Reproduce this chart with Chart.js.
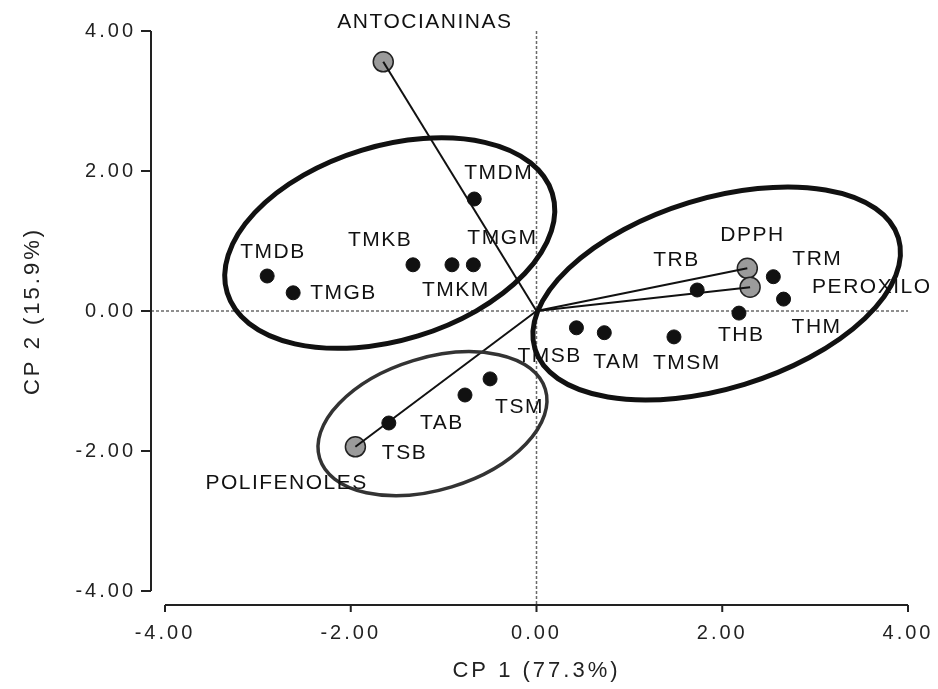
<!DOCTYPE html>
<html lang="es">
<head>
<meta charset="utf-8">
<title>CP1 x CP2</title>
<script src="https://cdn.jsdelivr.net/npm/chart.js@4.4.1/dist/chart.umd.min.js"></script>
<style>
  html, body { margin: 0; padding: 0; background: #fff; }
  #grafico { display: block; }
</style>
</head>
<body>
<canvas id="grafico" width="938" height="689"></canvas>
<script>
// =====================================================
// DADOS
// =====================================================
const amostras  = ['TMDB', 'TMGB', 'TMKB', 'TMKM', 'TMGM', 'TMDM', 'TRB', 'TRM', 'THM', 'THB', 'TMSB', 'TAM', 'TMSM', 'TSM', 'TAB', 'TSB'];
const amostrasX = [-2.90, -2.62, -1.33, -0.91, -0.68, -0.67, 1.73, 2.55, 2.66, 2.18, 0.43, 0.73, 1.48, -0.50, -0.77, -1.59];
const amostrasY = [0.50, 0.26, 0.66, 0.66, 0.66, 1.60, 0.30, 0.49, 0.17, -0.03, -0.24, -0.31, -0.37, -0.97, -1.20, -1.60];

const variaveis  = ['ANTOCIANINAS', 'POLIFENOLES', 'DPPH', 'PEROXILO'];
const variaveisX = [-1.65, -1.95, 2.27, 2.30];
const variaveisY = [3.56, -1.94, 0.61, 0.34];

const ticksEixo = [-4, -2, 0, 2, 4];

// =====================================================
// LAYOUT DOS RÓTULOS (deslocamento em px a partir do ponto)
// =====================================================
const offsetsAmostras = [
  [-27, -24], [17, 0], [-65, -25], [-30, 25], [-6, -27], [-10, -26],
  [-44, -30], [19, -17], [8, 28], [-21, 22], [-59, 28], [-11, 30],
  [-21, 26], [5, 28], [-45, 28], [-7, 30],
];
const offsetsVariaveis = [[-46, -40], [-150, 36], [-27, -33], [62, 0]];

// Elipses dos agrupamentos (centro em unidades do gráfico, raios em px)
const elipses = [
  { cx: -1.58, cy: 0.97,  rx: 170, ry: 97, ang: -17, largura: 5,   cor: '#111' },
  { cx: 1.94,  cy: 0.25,  rx: 190, ry: 95, ang: -17, largura: 5,   cor: '#111' },
  { cx: -1.12, cy: -1.61, rx: 118, ry: 66, ang: -17, largura: 3.5, cor: '#333' },
];

const FONTE = '"Liberation Sans", Arial, sans-serif';

// sem padding automático das escalas: a área do gráfico fica fixa
function semPadding(s) {
  s.paddingTop = 0;
  s.paddingBottom = 0;
  s.paddingLeft = 0;
  s.paddingRight = 0;
}

// =====================================================
// PLUGINS
// =====================================================
const pluginEspacamento = {
  id: 'espacamento',
  beforeDraw(chart) { chart.ctx.letterSpacing = '3px'; },
  afterDraw(chart) { chart.ctx.letterSpacing = '0px'; },
};

const pluginEixos = {
  id: 'eixos',
  beforeDatasetsDraw(chart) {
    const { ctx, chartArea, scales } = chart;
    const x0 = scales.x.getPixelForValue(0);
    const y0 = scales.y.getPixelForValue(0);
    const eixoY = chartArea.left - 14;
    const eixoX = chartArea.bottom + 14;

    ctx.save();
    // linhas de referência em zero
    ctx.strokeStyle = '#6a6a6a';
    ctx.lineWidth = 1.5;
    ctx.setLineDash([3, 2]);
    ctx.beginPath();
    ctx.moveTo(eixoY, y0);
    ctx.lineTo(chartArea.right, y0);
    ctx.moveTo(x0, chartArea.top);
    ctx.lineTo(x0, eixoX);
    ctx.stroke();
    ctx.setLineDash([]);

    // eixos destacados
    ctx.strokeStyle = '#222';
    ctx.lineWidth = 2;
    ctx.beginPath();
    ctx.moveTo(eixoY, chartArea.top);
    ctx.lineTo(eixoY, chartArea.bottom);
    ctx.moveTo(chartArea.left, eixoX);
    ctx.lineTo(chartArea.right, eixoX);
    ticksEixo.forEach((v) => {
      const py = scales.y.getPixelForValue(v);
      ctx.moveTo(eixoY - 10, py);
      ctx.lineTo(eixoY, py);
      const px = scales.x.getPixelForValue(v);
      ctx.moveTo(px, eixoX);
      ctx.lineTo(px, eixoX + 7);
    });
    ctx.stroke();
    ctx.restore();
  },
};

const pluginElipses = {
  id: 'elipses',
  afterDatasetsDraw(chart) {
    const { ctx, scales } = chart;
    ctx.save();
    elipses.forEach((e) => {
      ctx.beginPath();
      ctx.ellipse(
        scales.x.getPixelForValue(e.cx),
        scales.y.getPixelForValue(e.cy),
        e.rx, e.ry, (e.ang * Math.PI) / 180, 0, Math.PI * 2
      );
      ctx.lineWidth = e.largura;
      ctx.strokeStyle = e.cor;
      ctx.stroke();
    });
    ctx.restore();
  },
};

const pluginRotulos = {
  id: 'rotulos',
  afterDatasetsDraw(chart) {
    const { ctx } = chart;
    const metaVar = chart.getDatasetMeta(chart.data.datasets.length - 2);
    const metaAm = chart.getDatasetMeta(chart.data.datasets.length - 1);
    ctx.save();
    ctx.font = `21px ${FONTE}`;
    ctx.letterSpacing = '1.5px';
    ctx.fillStyle = '#111';
    ctx.textAlign = 'left';
    ctx.textBaseline = 'middle';
    metaAm.data.forEach((pt, i) => {
      const [dx, dy] = offsetsAmostras[i];
      ctx.fillText(amostras[i], pt.x + dx, pt.y + dy);
    });
    metaVar.data.forEach((pt, i) => {
      const [dx, dy] = offsetsVariaveis[i];
      ctx.fillText(variaveis[i], pt.x + dx, pt.y + dy);
    });
    ctx.restore();
  },
};

// =====================================================
// GRÁFICO
// =====================================================
const vetores = variaveis.map((nome, i) => ({
  label: nome,
  data: [{ x: 0, y: 0 }, { x: variaveisX[i], y: variaveisY[i] }],
  showLine: true,
  borderColor: '#111',
  borderWidth: 2,
  pointRadius: 0,
}));

new Chart(document.getElementById('grafico'), {
  type: 'scatter',
  data: {
    datasets: [
      ...vetores,
      {
        label: 'Variáveis',
        data: variaveis.map((_, i) => ({ x: variaveisX[i], y: variaveisY[i] })),
        backgroundColor: '#9b9b9b',
        borderColor: '#222',
        borderWidth: 1.5,
        pointRadius: 10,
      },
      {
        label: 'Amostras',
        data: amostras.map((_, i) => ({ x: amostrasX[i], y: amostrasY[i] })),
        backgroundColor: '#111',
        borderColor: '#111',
        borderWidth: 1,
        pointRadius: 7,
      },
    ],
  },
  options: {
    responsive: false,
    animation: false,
    devicePixelRatio: 1,
    layout: { autoPadding: false, padding: { top: 31, right: 30, left: 0, bottom: 0 } },
    plugins: {
      legend: { display: false },
      tooltip: { enabled: false },
    },
    scales: {
      x: {
        type: 'linear',
        min: -4,
        max: 4,
        afterBuildTicks: (s) => { s.ticks = ticksEixo.map((v) => ({ value: v })); },
        afterFit: (s) => { s.height = 98; semPadding(s); },
        grid: { display: false, drawTicks: false },
        border: { display: false },
        ticks: {
          padding: 30,
          color: '#222',
          font: { family: FONTE, size: 20 },
          callback: (v) => v.toFixed(2),
        },
        title: {
          display: true,
          text: 'CP 1 (77.3%)',
          color: '#222',
          font: { family: FONTE, size: 22 },
          padding: { top: 5, bottom: 5 },
        },
      },
      y: {
        type: 'linear',
        min: -4,
        max: 4,
        afterBuildTicks: (s) => { s.ticks = ticksEixo.map((v) => ({ value: v })); },
        afterFit: (s) => { s.width = 165; semPadding(s); },
        grid: { display: false, drawTicks: false },
        border: { display: false },
        ticks: {
          padding: 29,
          color: '#222',
          font: { family: FONTE, size: 20 },
          callback: (v) => v.toFixed(2),
        },
        title: {
          display: true,
          text: 'CP 2 (15.9%)',
          color: '#222',
          font: { family: FONTE, size: 22 },
          padding: { top: 20, bottom: 0 },
        },
      },
    },
  },
  plugins: [pluginEspacamento, pluginEixos, pluginElipses, pluginRotulos],
});
</script>
</body>
</html>
